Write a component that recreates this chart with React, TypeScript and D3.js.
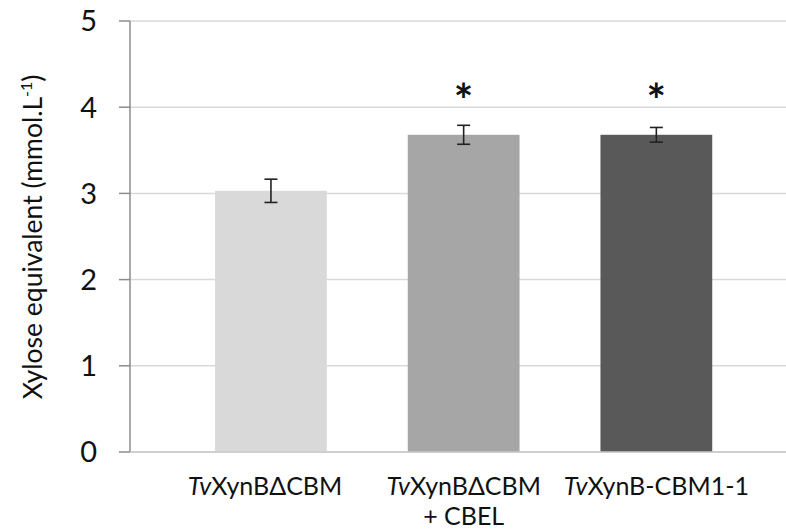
import React from 'react';
import * as d3 from 'd3';

// data
const categories = ['a', 'b', 'c'];
const values = [3.03, 3.68, 3.68];
const errors = [0.135, 0.11, 0.085];
const significant = [false, true, true];
const barColors = ['#d9d9d9', '#a6a6a6', '#595959'];
const yTicks = [0, 1, 2, 3, 4, 5];

const W = 786, H = 529;
const axisX = 130;

const App = () => {
  const y = d3.scaleLinear().domain([0, 5]).range([452, 21]);
  const x = d3.scaleBand().domain(categories).range([174.6, 752.7]).paddingInner(0.42).paddingOuter(0.21);
  const font = 'Lato, "Open Sans", sans-serif';

  return (
    <svg width={W} height={H} style={{ position: 'absolute', left: 0, top: 0, background: '#fff' }} fontFamily={font}>
      {/* gridlines */}
      {yTicks.map(t => (
        <line key={'g' + t} x1={axisX} x2={W} y1={y(t)} y2={y(t)} stroke="#d9d9d9" strokeWidth={1.5} />
      ))}
      {/* bars */}
      {categories.map((c, i) => (
        <rect key={c} x={x(c)} width={x.bandwidth()} y={y(values[i])} height={y(0) - y(values[i])} fill={barColors[i]} />
      ))}
      {/* axis */}
      <line x1={axisX} x2={axisX} y1={y(5)} y2={y(0)} stroke="#8c8c8c" strokeWidth={1.5} />
      <line x1={axisX} x2={W} y1={y(0)} y2={y(0)} stroke="#c8c8c8" strokeWidth={1.5} />
      {yTicks.map(t => (
        <g key={'t' + t}>
          <line x1={119} x2={axisX} y1={y(t)} y2={y(t)} stroke="#8c8c8c" strokeWidth={1.5} />
          <text x={97} y={y(t)} dy="0.36em" textAnchor="end" fontSize={29} fill="#111">{t}</text>
        </g>
      ))}
      {/* error bars */}
      {categories.map((c, i) => {
        const cx = (x(c) as number) + x.bandwidth() / 2;
        const hi = y(values[i] + errors[i]), lo = y(values[i] - errors[i]);
        return (
          <g key={'e' + c} stroke="#222" strokeWidth={1.6}>
            <line x1={cx} x2={cx} y1={hi} y2={lo} />
            <line x1={cx - 6.5} x2={cx + 6.5} y1={hi} y2={hi} />
            <line x1={cx - 6.5} x2={cx + 6.5} y1={lo} y2={lo} />
          </g>
        );
      })}
      {/* significance */}
      {categories.map((c, i) => significant[i] && (
        <text key={'s' + c} x={(x(c) as number) + x.bandwidth() / 2} y={117} textAnchor="middle" fontSize={46} fontWeight="bold" fill="#111">*</text>
      ))}
      {/* x labels */}
      <g fontSize={25} fill="#111" textAnchor="middle">
        <text x={(x('a') as number) + x.bandwidth() / 2 - 6} y={495}><tspan fontStyle="italic">Tv</tspan>XynBΔCBM</text>
        <text x={(x('b') as number) + x.bandwidth() / 2} y={495}><tspan fontStyle="italic">Tv</tspan>XynBΔCBM</text>
        <text x={(x('b') as number) + x.bandwidth() / 2} y={525}>+ CBEL</text>
        <text x={(x('c') as number) + x.bandwidth() / 2} y={495}><tspan fontStyle="italic">Tv</tspan>XynB-CBM1-1</text>
      </g>
      {/* y title */}
      <text transform="translate(42,237) rotate(-90)" textAnchor="middle" fontSize={26.5} fill="#111">
        Xylose equivalent (mmol.L<tspan fontSize={16} dy="-10">-1</tspan><tspan dy="10">)</tspan>
      </text>
    </svg>
  );
};

export default App;
